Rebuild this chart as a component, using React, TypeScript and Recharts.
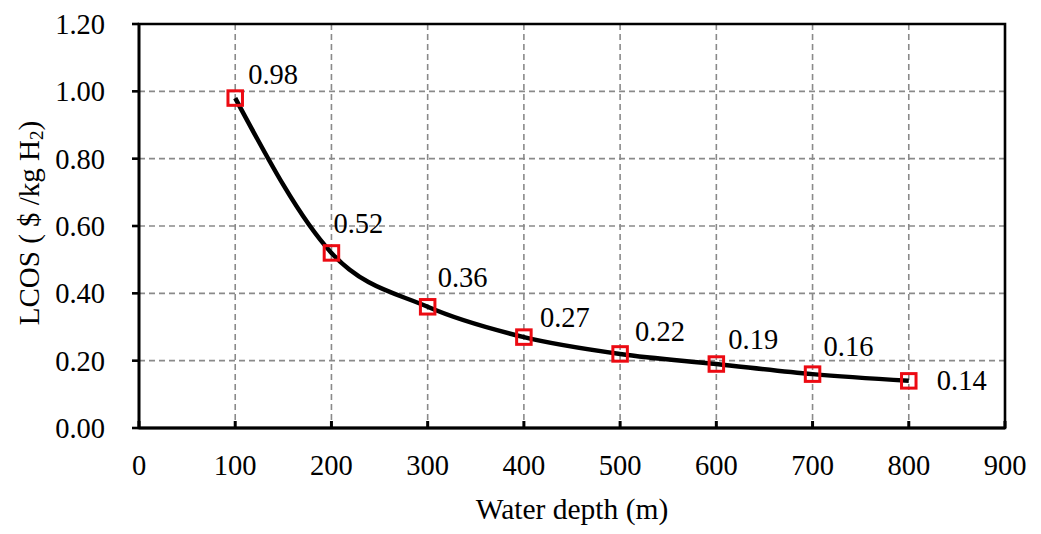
import React from 'react';
import {
  LineChart,
  Line,
  XAxis,
  YAxis,
  CartesianGrid,
  ReferenceArea,
  LabelList,
} from 'recharts';

// Levelised cost of storage versus water depth
const depths = [100, 200, 300, 400, 500, 600, 700, 800];
const lcos = [0.98, 0.52, 0.36, 0.27, 0.22, 0.19, 0.16, 0.14];

const xTicks = [0, 100, 200, 300, 400, 500, 600, 700, 800, 900];
const yTicks = [0, 0.2, 0.4, 0.6, 0.8, 1.0, 1.2];

// Hand-placed label offsets (text start, baseline) relative to each marker
const labelOffsets: [number, number][] = [
  [13, -14],
  [2, -20],
  [10, -20],
  [16, -10],
  [15, -13],
  [12, -15],
  [11, -18],
  [28, 9],
];

const data = depths.map((d, i) => ({ depth: d, lcos: lcos[i] }));

const FONT = '"Liberation Serif", "Times New Roman", serif';
const RED = '#ec0a12';

const SquareDot = (props: any) => {
  const { cx, cy } = props;
  if (cx == null || cy == null) return null;
  const s = 14.5;
  return (
    <rect
      x={cx - s / 2}
      y={cy - s / 2}
      width={s}
      height={s}
      fill="none"
      stroke={RED}
      strokeWidth={3}
    />
  );
};

const PointLabel = (props: any) => {
  const { x, y, value, index } = props;
  const [dx, dy] = labelOffsets[index] || [10, -15];
  return (
    <text x={x + dx} y={y + dy} fontFamily={FONT} fontSize={28.5} fill="#000">
      {Number(value).toFixed(2)}
    </text>
  );
};

const YTitle = (props: any) => {
  const vb = props.viewBox || { x: 0, y: 0, width: 0, height: 0 };
  const cx = 29;
  const cy = vb.y + vb.height / 2 - 3;
  return (
    <text
      transform={`translate(${cx}, ${cy}) rotate(-90)`}
      textAnchor="middle"
      dominantBaseline="central"
      fontFamily={FONT}
      fontSize={29}
      fill="#000"
    >
      LCOS ( $ /kg H
      <tspan fontSize={19} dy={7}>2</tspan>
      <tspan dy={-7}>)</tspan>
    </text>
  );
};

const XTitle = (props: any) => {
  const vb = props.viewBox || { x: 0, y: 0, width: 0, height: 0 };
  return (
    <text
      x={vb.x + vb.width / 2}
      y={vb.y + 91}
      textAnchor="middle"
      fontFamily={FONT}
      fontSize={29.5}
      fill="#000"
    >
      Water depth (m)
    </text>
  );
};

export default function App() {
  return (
    <div style={{ position: 'absolute', left: 0, top: 0, background: '#fff' }}>
      <LineChart
        width={1041}
        height={534}
        data={data}
        margin={{ top: 24, right: 36, bottom: 0, left: 0 }}
      >
        <CartesianGrid stroke="#8a8a8a" strokeWidth={1.6} strokeDasharray="6 4" />
        <XAxis
          dataKey="depth"
          type="number"
          domain={[0, 900]}
          ticks={xTicks}
          interval={0}
          height={106}
          axisLine={{ stroke: '#000', strokeWidth: 3 }}
          tickLine={{ stroke: '#000', strokeWidth: 3 }}
          tickSize={-7}
          tickMargin={34}
          tick={{ fill: '#000', fontFamily: FONT, fontSize: 28.5 }}
          label={<XTitle />}
        />
        <YAxis
          type="number"
          domain={[0, 1.2]}
          ticks={yTicks}
          interval={0}
          width={139}
          axisLine={{ stroke: '#000', strokeWidth: 2.6 }}
          tickLine={{ stroke: '#000', strokeWidth: 2.6 }}
          tickSize={7}
          tickMargin={27}
          tickFormatter={(v: number) => v.toFixed(2)}
          tick={{ fill: '#000', fontFamily: FONT, fontSize: 28.5 }}
          label={<YTitle />}
        />
        <ReferenceArea
          x1={0}
          x2={900}
          y1={0}
          y2={1.2}
          fill="none"
          fillOpacity={0}
          stroke="#000"
          strokeWidth={2.6}
          ifOverflow="visible"
        />
        <Line
          type="monotone"
          dataKey="lcos"
          stroke="#000"
          strokeWidth={4.5}
          dot={<SquareDot />}
          activeDot={false}
          isAnimationActive={false}
        >
          <LabelList dataKey="lcos" content={<PointLabel />} />
        </Line>
      </LineChart>
    </div>
  );
}
